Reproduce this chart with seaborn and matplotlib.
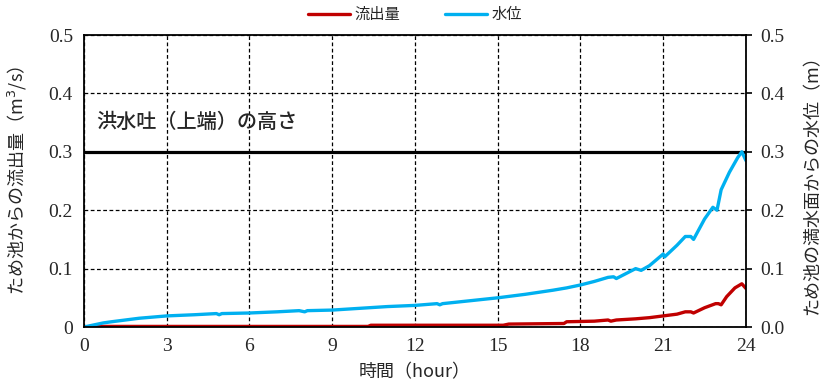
import numpy as np
import pandas as pd
import matplotlib
matplotlib.use("Agg")
import matplotlib.pyplot as plt
import seaborn as sns

# water level (m) over time (hour)
level_t = [0, 0.3, 0.7, 1, 1.5, 2, 2.5, 3, 4, 4.8, 4.9, 5, 6, 7, 7.8, 8, 8.1, 9, 10, 11,
           12, 12.8, 12.9, 13, 14, 15, 16, 17, 17.5, 18, 18.5, 19, 19.2, 19.3, 20, 20.2,
           20.5, 21, 21.05, 21.5, 21.8, 22, 22.1, 22.5, 22.8, 22.95, 23.1, 23.4, 23.7,
           23.85, 24]
level_v = [0, 0.003, 0.007, 0.009, 0.012, 0.015, 0.017, 0.019, 0.021, 0.023, 0.021,
           0.023, 0.024, 0.026, 0.028, 0.026, 0.028, 0.029, 0.032, 0.035, 0.037, 0.040,
           0.038, 0.040, 0.045, 0.050, 0.056, 0.063, 0.067, 0.072, 0.078, 0.085, 0.086,
           0.083, 0.100, 0.097, 0.105, 0.125, 0.120, 0.140, 0.155, 0.155, 0.150, 0.185,
           0.205, 0.200, 0.235, 0.265, 0.290, 0.300, 0.285]

# outflow (m3/s) over time (hour)
flow_t = [0, 0.5, 10.3, 10.4, 15.2, 15.4, 17.4, 17.5, 18.5, 19, 19.1, 19.3, 20, 20.5,
          21, 21.5, 21.8, 22, 22.1, 22.5, 22.9, 23.0, 23.1, 23.3, 23.6, 23.85, 24]
flow_v = [0, 0.001, 0.001, 0.003, 0.003, 0.005, 0.006, 0.009, 0.010, 0.012, 0.010,
          0.012, 0.014, 0.016, 0.019, 0.022, 0.026, 0.026, 0.024, 0.033, 0.040, 0.040,
          0.038, 0.052, 0.067, 0.074, 0.066]

spillway = 0.3
x_ticks = list(range(0, 25, 3))
y_ticks = [0, 0.1, 0.2, 0.3, 0.4, 0.5]
left_labels = ["0", "0.1", "0.2", "0.3", "0.4", "0.5"]
right_labels = ["0.0", "0.1", "0.2", "0.3", "0.4", "0.5"]

sns.set_style("white")
plt.rcParams["font.family"] = ["Noto Sans CJK JP", "DejaVu Sans"]
num_font = ["Liberation Serif", "DejaVu Serif"]

fig = plt.figure(figsize=(8.22, 3.92), dpi=100)
ax = fig.add_axes([0.1022, 0.1658, 0.8053, 0.7449])

flow = pd.DataFrame({"t": flow_t, "v": flow_v})
level = pd.DataFrame({"t": level_t, "v": level_v})
sns.lineplot(data=flow, x="t", y="v", ax=ax, color="#C00000", linewidth=2.4, label="流出量")
sns.lineplot(data=level, x="t", y="v", ax=ax, color="#00B0F0", linewidth=2.4, label="水位")
ax.axhline(spillway, color="black", linewidth=2.3, zorder=1)
ax.text(0.45, spillway + 0.05, "洪水吐（上端）の高さ", fontsize=14.5, fontweight="medium",
        va="center", ha="left")

ax.set_xlim(0, 24)
ax.set_ylim(0, 0.5)
ax.set_xticks(x_ticks)
ax.set_xticklabels([str(v) for v in x_ticks], fontsize=14, family=num_font)
ax.set_yticks(y_ticks)
ax.set_yticklabels(left_labels, fontsize=14, family=num_font)
ax.grid(True, color="black", linestyle=(0, (3, 2)), linewidth=0.9)
ax.tick_params(direction="out", length=0, pad=8)
for s in ax.spines.values():
    s.set_color("black")
    s.set_linewidth(1.3)
ax.set_xlabel("時間（hour）", fontsize=13, labelpad=6)
ax.set_ylabel("ため池からの流出量（m$^3$/s）", fontsize=13, labelpad=14)

ax2 = ax.twinx()
ax2.set_ylim(0, 0.5)
ax2.set_yticks(y_ticks)
ax2.set_yticklabels(right_labels, fontsize=14, family=num_font)
ax2.tick_params(direction="out", length=4, width=1.2, color="black", pad=6)
ax2.set_ylabel("ため池の満水面からの水位（m）", fontsize=13, rotation=90, labelpad=14)
for s in ax2.spines.values():
    s.set_visible(False)

handles, labels = ax.get_legend_handles_labels()
ax.get_legend().remove()
fig.legend(handles, labels, loc="upper center", bbox_to_anchor=(0.505, 1.02), ncol=2,
           frameon=False, fontsize=11, handlelength=2.75, handletextpad=0.3,
           columnspacing=2.9)

fig.savefig("out.png", dpi=100)
